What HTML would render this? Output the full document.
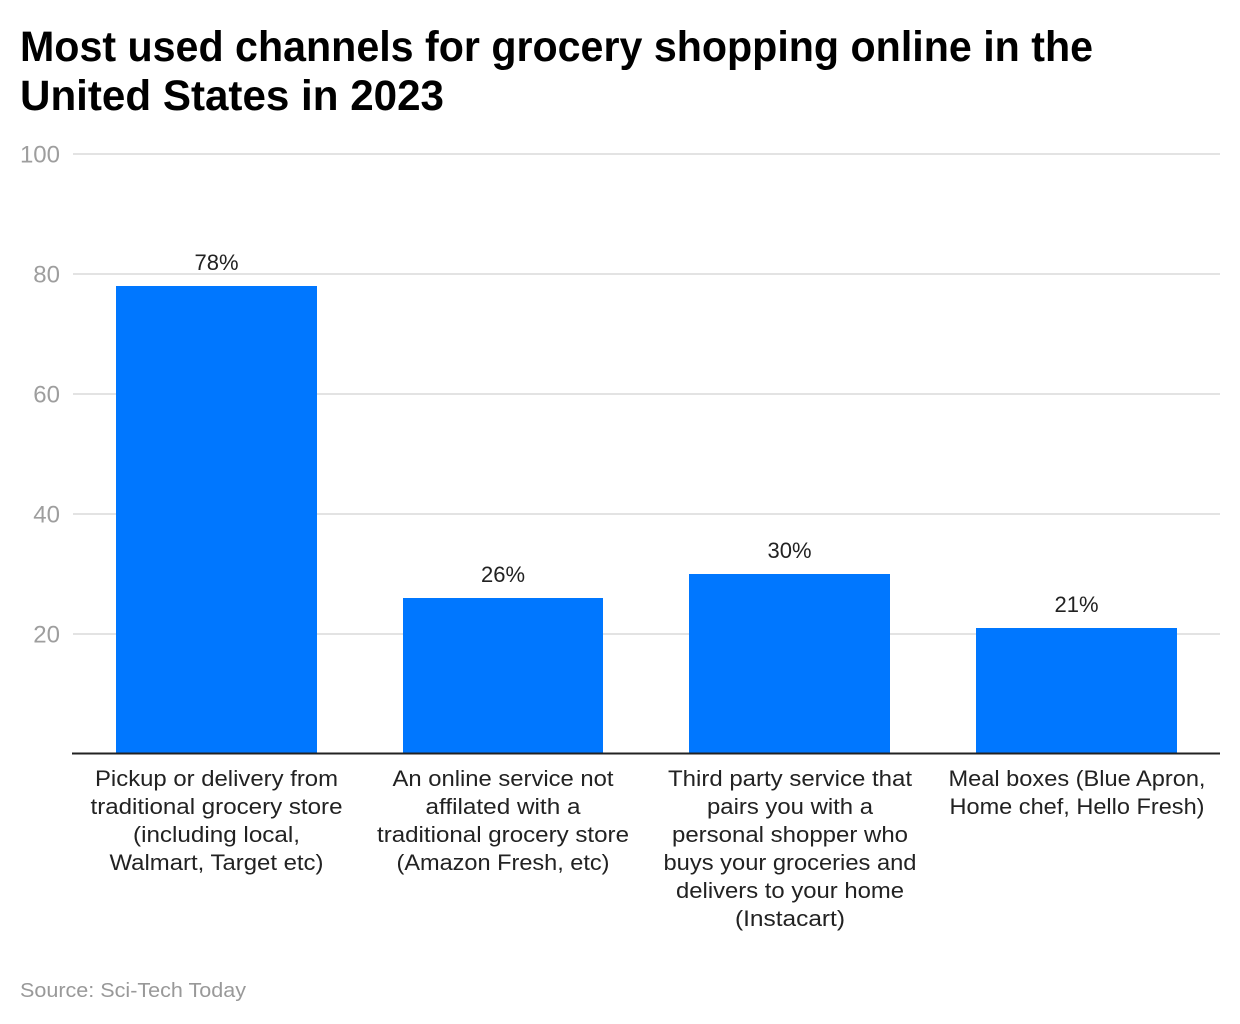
<!DOCTYPE html>
<html>
<head>
<meta charset="utf-8">
<style>
  html, body { margin: 0; padding: 0; background: #ffffff; }
  svg { display: block; }
  text { font-family: "Liberation Sans", Arial, sans-serif; }
</style>
</head>
<body>
<svg width="1240" height="1024" viewBox="0 0 1240 1024" xmlns="http://www.w3.org/2000/svg">
  <rect x="0" y="0" width="1240" height="1024" fill="#ffffff"/>

  <!-- Title -->
  <text x="20" y="61" font-size="43" font-weight="bold" fill="#000" textLength="1073" lengthAdjust="spacingAndGlyphs">Most used channels for grocery shopping online in the</text>
  <text x="20" y="110" font-size="43" font-weight="bold" fill="#000" textLength="424" lengthAdjust="spacingAndGlyphs">United States in 2023</text>

  <!-- Gridlines -->
  <g stroke="#e3e3e3" stroke-width="2">
    <line x1="73" y1="154" x2="1220" y2="154"/>
    <line x1="73" y1="274" x2="1220" y2="274"/>
    <line x1="73" y1="394" x2="1220" y2="394"/>
    <line x1="73" y1="514" x2="1220" y2="514"/>
    <line x1="73" y1="634" x2="1220" y2="634"/>
  </g>

  <!-- Y axis labels -->
  <g font-size="24" fill="#9e9e9e" text-anchor="end">
    <text x="60" y="162.5">100</text>
    <text x="60" y="282.5">80</text>
    <text x="60" y="402.5">60</text>
    <text x="60" y="522.5">40</text>
    <text x="60" y="642.5">20</text>
  </g>

  <!-- Bars -->
  <g fill="#0077ff">
    <rect x="116" y="286" width="201" height="468"/>
    <rect x="403" y="598" width="200" height="156"/>
    <rect x="689" y="574" width="201" height="180"/>
    <rect x="976" y="628" width="201" height="126"/>
  </g>

  <!-- Axis line -->
  <line x1="72" y1="753.5" x2="1220" y2="753.5" stroke="#222" stroke-width="2"/>

  <!-- Value labels -->
  <g font-size="22" fill="#222" text-anchor="middle">
    <text x="216.5" y="270">78%</text>
    <text x="503" y="582">26%</text>
    <text x="789.5" y="558">30%</text>
    <text x="1076.5" y="612">21%</text>
  </g>

  <!-- Category labels -->
  <g font-size="22" fill="#222" text-anchor="middle">
    <text x="216.5" y="786" textLength="243" lengthAdjust="spacingAndGlyphs">Pickup or delivery from</text>
    <text x="216.5" y="814" textLength="252" lengthAdjust="spacingAndGlyphs">traditional grocery store</text>
    <text x="216.5" y="842" textLength="167" lengthAdjust="spacingAndGlyphs">(including local,</text>
    <text x="216.5" y="870" textLength="214" lengthAdjust="spacingAndGlyphs">Walmart, Target etc)</text>

    <text x="503" y="786" textLength="221" lengthAdjust="spacingAndGlyphs">An online service not</text>
    <text x="503" y="814" textLength="155" lengthAdjust="spacingAndGlyphs">affilated with a</text>
    <text x="503" y="842" textLength="252" lengthAdjust="spacingAndGlyphs">traditional grocery store</text>
    <text x="503" y="870" textLength="213" lengthAdjust="spacingAndGlyphs">(Amazon Fresh, etc)</text>

    <text x="790" y="786" textLength="244" lengthAdjust="spacingAndGlyphs">Third party service that</text>
    <text x="790" y="814" textLength="166" lengthAdjust="spacingAndGlyphs">pairs you with a</text>
    <text x="790" y="842" textLength="236" lengthAdjust="spacingAndGlyphs">personal shopper who</text>
    <text x="790" y="870" textLength="253" lengthAdjust="spacingAndGlyphs">buys your groceries and</text>
    <text x="790" y="898" textLength="228" lengthAdjust="spacingAndGlyphs">delivers to your home</text>
    <text x="790" y="926" textLength="110" lengthAdjust="spacingAndGlyphs">(Instacart)</text>

    <text x="1077" y="786" textLength="257" lengthAdjust="spacingAndGlyphs">Meal boxes (Blue Apron,</text>
    <text x="1077" y="814" textLength="255" lengthAdjust="spacingAndGlyphs">Home chef, Hello Fresh)</text>
  </g>

  <!-- Source -->
  <text x="20" y="997" font-size="20" fill="#999999" textLength="226" lengthAdjust="spacingAndGlyphs">Source: Sci-Tech Today</text>
</svg>
</body>
</html>
